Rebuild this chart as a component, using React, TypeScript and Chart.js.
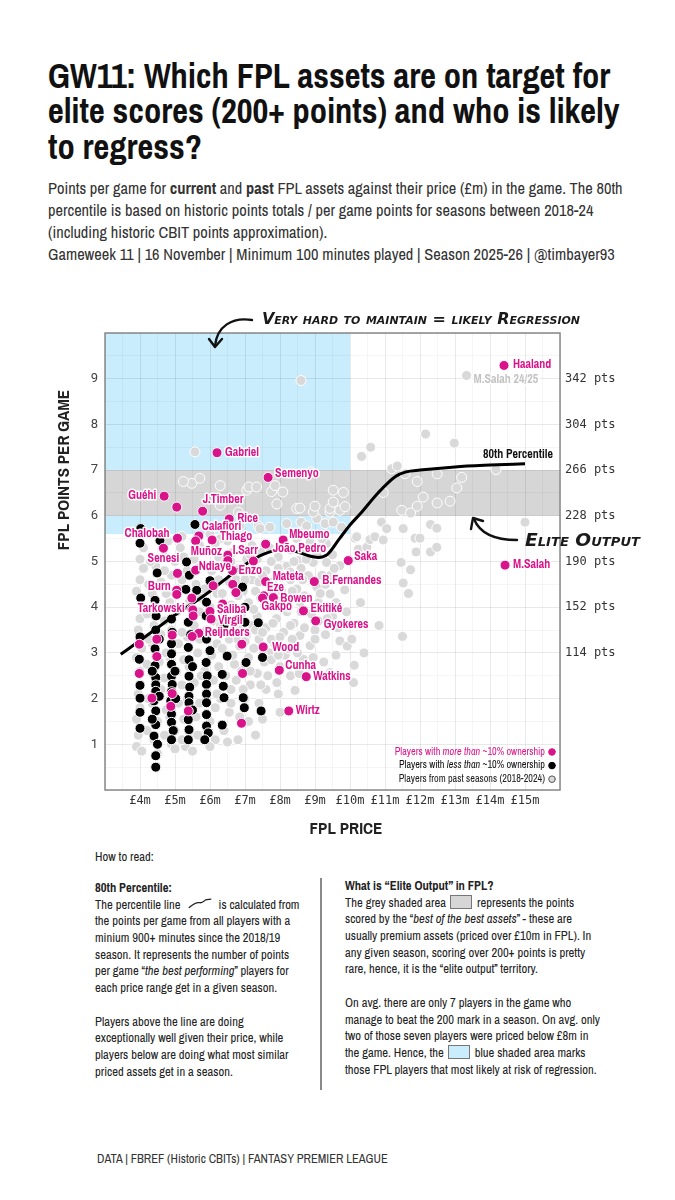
import React, { useEffect, useRef } from "react";
import { Chart, registerables } from "chart.js";

Chart.register(...registerables);

const NARROW = '"Liberation Sans Narrow", "Archivo Narrow", "DejaVu Sans Condensed", Roboto, sans-serif';
const MONO = '"DejaVu Sans Mono", "Liberation Mono", monospace';
const HAND = '"DejaVu Sans", sans-serif';

const MAGENTA = "#d9138a";
const PAST_GREY = "#d9d9d9";
const BLUE_ZONE = "#c9edfc";
const ELITE_GREY = "#d6d6d6";

// ---------- ticks ----------
const priceTicks = [4, 5, 6, 7, 8, 9, 10, 11, 12, 13, 14, 15];
const priceTickLabels = ["£4m", "£5m", "£6m", "£7m", "£8m", "£9m", "£10m", "£11m", "£12m", "£13m", "£14m", "£15m"];
const ppgTicks = [1, 2, 3, 4, 5, 6, 7, 8, 9];
const ppgTickLabels = ["1", "2", "3", "4", "5", "6", "7", "8", "9"];
const seasonPtsTicks = [3, 4, 5, 6, 7, 8, 9];
const seasonPtsTickLabels = ["114 pts", "152 pts", "190 pts", "228 pts", "266 pts", "304 pts", "342 pts"];

// ---------- zones ----------
const regressionZone = { maxPrice: 10, minPpg: 5.6 };
const eliteBand = { minPpg: 6, maxPpg: 7 };

// ---------- data: [price £m, points per game] ----------
const pastSeasons: [number, number][] = [
  [3.9, 0.95], [3.95, 1.2], [3.9, 1.55], [4.0, 1.8], [3.95, 2.1], [4.0, 2.6], [3.9, 2.9], [4.05, 3.1], [3.95, 3.5], [4.0, 3.75], [4.1, 4.0], [3.9, 4.35], [4.0, 4.6], [4.1, 4.85], [4.0, 5.05], [4.1, 5.3],
  [4.4, 1.1], [4.5, 1.5], [4.35, 1.9], [4.6, 2.2], [4.4, 2.5], [4.55, 2.8], [4.35, 3.2], [4.6, 3.4], [4.4, 3.6], [4.5, 3.95], [4.35, 4.3], [4.6, 4.55], [4.45, 4.9], [4.7, 5.1], [4.3, 5.0], [4.6, 5.6],
  [4.9, 1.0], [5.0, 1.3], [4.85, 1.6], [5.1, 1.9], [4.9, 2.2], [5.05, 2.6], [4.85, 2.9], [5.1, 3.2], [4.9, 3.5], [5.05, 3.9], [4.85, 4.1], [5.1, 4.4], [4.9, 4.7], [5.0, 5.0], [5.15, 5.3], [4.8, 5.45],
  [5.3, 0.95], [5.45, 1.25], [5.6, 1.6], [5.35, 2.0], [5.55, 2.35], [5.4, 2.7], [5.65, 3.0], [5.35, 3.35], [5.55, 3.6], [5.7, 3.9], [5.4, 4.1], [5.6, 4.5], [5.35, 4.8], [5.55, 5.05], [5.7, 5.35], [5.2, 5.55],
  [5.85, 1.2], [6.0, 1.5], [6.15, 1.8], [5.9, 2.1], [6.1, 2.4], [5.85, 2.6], [6.05, 2.95], [6.2, 3.2], [5.9, 3.5], [6.1, 3.7], [6.0, 4.0], [6.2, 4.3], [5.85, 4.4], [6.05, 4.8], [6.25, 5.1], [5.95, 5.25], [6.0, 5.6],
  [6.4, 1.3], [6.55, 1.7], [6.3, 2.0], [6.6, 2.2], [6.45, 2.5], [6.7, 2.75], [6.35, 3.1], [6.55, 3.3], [6.7, 3.55], [6.4, 3.8], [6.6, 4.05], [6.35, 4.3], [6.55, 4.55], [6.7, 4.8], [6.45, 5.0], [6.65, 5.2], [6.5, 5.45], [6.3, 5.5],
  [6.8, 1.1], [6.85, 1.6], [7.0, 2.0], [7.15, 2.3], [6.9, 2.6], [7.1, 2.9], [6.85, 3.15], [7.05, 3.4], [7.2, 3.6], [6.9, 3.85], [7.1, 4.1], [6.95, 4.35], [7.2, 4.6], [6.85, 4.85], [7.05, 5.05], [7.2, 5.35], [7.1, 1.5],
  [7.3, 1.2], [7.4, 1.9], [7.6, 2.2], [7.35, 2.55], [7.55, 2.8], [7.7, 3.0], [7.4, 3.3], [7.6, 3.55], [7.35, 3.8], [7.55, 4.05], [7.7, 4.3], [7.4, 4.55], [7.6, 4.8], [7.35, 5.05], [7.55, 5.3],
  [7.91, 2.35], [8.0, 2.7], [8.15, 2.95], [7.85, 3.2], [8.1, 3.45], [7.9, 3.75], [8.2, 3.9], [8.1, 4.18], [7.85, 4.4], [8.05, 4.65], [8.2, 4.9], [7.95, 5.1],
  [8.43, 2.18], [8.67, 2.86], [8.24, 3.09], [8.57, 3.38], [8.4, 3.65], [8.6, 3.9], [8.57, 4.11], [8.48, 4.4], [8.29, 4.77], [8.52, 5.02], [8.7, 5.25], [8.48, 5.5],
  [8.86, 3.16], [9.0, 3.5], [8.9, 3.85], [9.1, 4.1], [9.05, 4.44], [8.81, 4.69], [8.95, 4.98], [9.15, 5.3], [8.86, 5.43],
  [9.43, 2.57], [9.71, 3.26], [9.92, 3.15], [9.5, 3.8], [9.6, 4.1], [9.43, 4.29], [9.85, 4.38], [9.43, 4.69], [9.33, 4.98], [9.71, 4.91], [9.33, 5.39],
  [6.6, 1.9], [6.75, 2.4], [6.65, 2.95], [6.8, 3.3], [6.75, 3.75], [6.8, 4.25], [6.75, 4.6], [6.6, 5.0],
  [6.95, 2.2], [7.0, 2.75], [7.0, 3.25], [6.95, 3.6], [7.0, 4.6], [6.95, 5.25],
  [7.15, 2.6], [7.25, 3.1], [7.3, 3.5], [7.25, 3.95], [7.3, 4.35], [7.25, 4.8], [7.15, 5.15],
  [7.45, 2.3], [7.5, 2.95], [7.5, 3.45], [7.45, 4.2], [7.5, 4.7], [7.45, 5.2],
  [7.65, 2.5], [7.75, 2.85], [7.75, 3.3], [7.8, 3.65], [7.7, 4.0], [7.8, 4.55], [7.75, 5.0], [7.7, 5.3],
  [7.95, 2.1], [7.95, 2.95], [8.0, 3.35], [8.0, 4.0], [8.05, 4.35], [7.95, 4.85], [8.1, 5.3],
  [8.3, 2.5], [8.25, 2.75], [8.35, 3.3], [8.3, 3.6], [8.25, 4.0], [8.35, 4.35], [8.3, 4.6], [8.4, 5.0], [8.3, 5.25],
  [8.55, 2.55], [8.5, 3.0], [8.7, 3.55], [8.7, 4.25], [8.65, 4.6], [8.6, 4.85], [8.75, 5.05],
  [8.85, 2.7], [8.95, 2.9], [9.0, 3.3], [9.1, 3.7], [9.15, 4.3], [9.2, 4.7], [9.05, 5.15], [9.2, 5.5],
  [9.25, 2.8], [9.3, 3.4], [9.35, 3.75], [9.3, 4.5], [9.5, 5.15], [9.55, 4.85], [9.6, 2.95], [9.65, 3.55], [9.9, 3.9], [9.95, 4.6], [10.05, 3.3], [10.3, 4.1], [10.4, 3.0], [10.1, 2.35],
  [4.2, 1.3], [4.25, 2.0], [4.2, 2.75], [4.25, 3.3], [4.2, 3.85], [4.25, 4.5],
  [4.7, 1.2], [4.75, 1.75], [4.7, 2.45], [4.75, 3.0], [4.7, 3.7], [4.75, 4.3], [4.7, 4.8],
  [5.2, 1.1], [5.25, 1.55], [5.2, 2.3], [5.25, 2.85], [5.2, 3.45], [5.25, 4.0], [5.2, 4.6], [5.25, 5.1],
  [5.65, 1.2], [5.7, 1.9], [5.75, 2.5], [5.7, 3.3], [5.75, 4.2], [5.65, 4.85],
  [6.15, 1.1], [6.2, 2.1], [6.25, 2.7], [6.3, 3.6], [6.25, 4.6], [6.15, 5.4],
  [4.05, 0.85], [4.5, 0.8], [5.0, 0.9], [5.5, 0.85], [6.0, 0.95], [6.5, 1.05], [7.5, 1.55], [8.0, 1.7],
  [10.12, 2.73], [10.83, 3.6], [11.5, 3.36], [11.67, 4.3], [11.52, 4.53], [11.73, 4.82], [11.46, 4.98], [10.24, 5.27], [10.48, 5.31], [11.89, 5.21], [12.3, 5.21], [12.48, 5.31],
  [10.14, 5.51], [10.57, 5.48], [10.71, 5.54], [10.95, 5.47], [11.86, 5.51], [12.0, 5.51], [10.19, 5.54],
  [10.9, 5.86], [11.05, 5.72], [11.52, 5.72], [12.3, 5.81], [12.48, 5.73], [15.0, 5.86],
  [6.86, 5.79], [7.38, 5.78], [7.43, 5.72], [7.71, 5.75], [8.19, 5.83], [8.6, 5.86], [8.76, 5.78], [9.05, 5.94], [9.29, 5.83], [9.52, 5.86], [9.76, 5.75],
  [5.48, 6.71], [5.24, 6.75], [5.71, 6.82], [6.29, 6.66], [6.29, 6.23], [6.81, 6.08], [7.05, 6.56], [7.11, 6.63], [7.33, 6.63], [7.76, 6.53], [7.86, 6.66], [8.08, 6.52], [7.91, 6.26],
  [8.48, 6.16], [8.57, 6.17], [8.95, 6.08], [9.0, 6.21], [8.88, 6.96], [9.43, 6.08], [9.43, 6.16], [9.52, 6.3], [9.52, 6.56], [9.71, 6.12], [9.81, 6.51], [9.86, 6.2],
  [10.95, 6.51], [11.48, 6.12], [11.73, 6.06], [11.92, 6.21], [12.09, 6.41], [12.49, 6.28], [12.86, 6.32], [13.05, 6.61], [11.92, 6.75], [11.19, 7.03], [11.35, 7.09], [11.57, 6.92],
  [12.49, 6.92], [13.19, 6.84], [14.17, 7.01],
  [10.33, 7.3], [10.59, 7.5], [12.16, 7.79], [12.98, 7.59], [5.57, 7.4], [8.6, 8.96],
];

const pastHighlight: [string, number, number][] = [["M.Salah 24/25", 13.33, 9.07]];

const lowOwnership: [number, number][] = [
  [4.02, 5.72], [4.0, 5.4], [4.02, 4.2], [4.0, 3.35], [3.98, 2.86], [4.0, 2.29], [4.0, 2.01], [4.0, 1.7], [4.0, 1.35],
  [4.57, 5.46], [4.49, 4.75], [4.43, 4.15], [4.46, 3.81], [4.45, 3.5], [4.43, 3.09], [4.43, 2.72], [4.45, 2.46], [4.45, 2.3], [4.45, 2.16], [4.4, 1.95],
  [4.45, 1.73], [4.45, 1.43], [4.4, 1.18], [4.5, 1.0], [4.45, 0.75], [4.45, 0.5], [4.35, 2.6], [4.35, 1.55], [4.55, 3.3], [4.55, 2.05],
  [4.9, 3.74], [4.92, 3.45], [4.9, 3.2], [4.9, 2.98], [4.9, 2.75], [4.9, 2.49], [4.92, 2.31], [4.9, 2.15], [4.88, 1.95], [4.9, 1.66], [4.9, 1.48], [4.95, 1.3], [4.9, 1.1], [5.0, 2.6], [5.02, 2.0],
  [5.57, 5.81], [5.33, 4.99], [5.41, 4.7], [5.31, 4.39], [5.62, 4.37], [5.38, 3.67], [5.45, 3.4], [5.38, 3.12], [5.4, 2.85], [5.4, 2.49], [5.42, 2.25], [5.4, 2.05], [5.4, 1.91],
  [5.38, 1.54], [5.4, 1.32], [5.38, 1.1], [5.5, 2.7], [5.5, 1.75],
  [6.0, 4.58], [5.9, 4.11], [5.89, 3.81], [5.9, 3.3], [5.89, 2.79], [5.92, 2.5], [5.9, 2.31], [5.9, 2.1], [5.9, 1.91], [5.9, 1.65], [5.9, 1.4], [5.95, 1.25], [5.85, 1.1], [6.0, 3.05],
  [6.49, 2.93], [6.35, 2.53], [6.38, 2.27], [6.4, 2.02], [6.35, 1.42], [6.4, 3.6],
  [6.93, 4.44], [7.0, 3.67], [7.03, 2.79], [6.95, 2.02], [6.98, 1.8], [7.0, 4.0],
  [7.38, 3.66], [7.46, 1.73], [7.5, 2.9],
];

const highOwnership: [string, number, number][] = [
  ["Haaland", 14.4, 9.29], ["Gabriel", 6.2, 7.38], ["Semenyo", 7.66, 6.84], ["Guéhi", 4.69, 6.43], ["", 5.05, 6.19],
  ["J.Timber", 5.79, 6.1], ["Rice", 6.55, 5.93], ["Calafiori", 5.68, 5.56], ["", 5.59, 5.45], ["Chalobah", 5.07, 5.51],
  ["Thiago", 6.06, 5.47], ["Mbeumo", 8.09, 5.47], ["João Pedro", 7.59, 5.38], ["Muñoz", 6.51, 5.14], ["", 6.51, 5.02],
  ["I.Sarr", 7.24, 5.01], ["Senesi", 4.67, 5.29], ["Ndiaye", 5.59, 4.81], ["Enzo", 6.64, 4.8], ["", 5.07, 4.74],
  ["", 6.09, 4.47], ["", 6.65, 4.5], ["", 6.74, 4.32], ["Mateta", 7.59, 4.56], ["B.Fernandes", 8.98, 4.56],
  ["Saka", 9.95, 5.02], ["Burn", 5.05, 4.37], ["", 5.05, 4.28], ["", 5.48, 4.2], ["Eze", 7.54, 4.25], ["Bowen", 7.81, 4.21],
  ["Gakpo", 7.5, 4.2], ["Ekitiké", 8.67, 3.92], ["Gyokeres", 9.02, 3.7], ["Tarkowski", 5.48, 3.96], ["", 5.51, 3.94],
  ["", 5.52, 3.81], ["Saliba", 6.0, 3.91], ["Virgil", 6.03, 3.74], ["", 6.36, 4.07], ["Reijnders", 5.68, 3.43],
  ["", 5.49, 3.36], ["", 4.92, 3.39], ["", 4.48, 3.3], ["", 3.98, 3.19], ["", 6.91, 3.19], ["Wood", 7.52, 3.13],
  ["", 4.48, 2.92], ["Cunha", 7.98, 2.62], ["", 3.98, 2.55], ["", 6.93, 2.55], ["Watkins", 8.75, 2.48],
  ["", 4.92, 2.11], ["", 4.34, 2.01], ["", 4.88, 1.83], ["", 5.38, 1.73], ["Wirtz", 8.25, 1.73], ["", 6.9, 1.46],
  ["M.Salah", 14.43, 4.92],
];

const percentile80: [number, number][] = [
  [3.45, 2.97], [4.0, 3.27], [4.5, 3.55], [5.0, 3.83], [5.5, 4.08], [6.0, 4.35], [6.5, 4.65], [7.0, 4.93],
  [7.5, 5.15], [8.0, 5.25], [8.4, 5.23], [8.8, 5.13], [9.1, 5.09], [9.35, 5.15], [9.7, 5.5], [10.0, 5.8],
  [10.3, 6.05], [10.8, 6.5], [11.3, 6.86], [11.6, 6.96], [12.0, 7.0], [13.0, 7.07], [14.0, 7.11], [15.0, 7.14],
];

const legendItems: { parts: [string, boolean][]; color: string; dot: string; ring: string }[] = [
  { parts: [["Players with ", false], ["more than", true], [" ~10% ownership", false]], color: MAGENTA, dot: MAGENTA, ring: MAGENTA },
  { parts: [["Players with ", false], ["less than", true], [" ~10% ownership", false]], color: "#111", dot: "#000", ring: "#000" },
  { parts: [["Players from past seasons (2018-2024)", false]], color: "#222", dot: PAST_GREY, ring: "#555" },
];

// ---------- label placement (layout only) ----------
const labelPlacement: Record<string, [number, number, CanvasTextAlign]> = {
  Haaland: [9, -1, "left"], Gabriel: [8, 0, "left"], Semenyo: [7, -4, "left"], "Guéhi": [-8, 0, "right"],
  "J.Timber": [0, -11, "left"], Rice: [8, 0, "left"], Calafiori: [3, -9, "left"], Chalobah: [-8, -4, "right"],
  Thiago: [8, -3, "left"], Mbeumo: [6, -5, "left"], "João Pedro": [7, 5, "left"], "Muñoz": [-6, -3, "right"],
  "I.Sarr": [-8, -10, "center"], Senesi: [0, 11, "center"], Ndiaye: [3, -3, "left"], Enzo: [6, 0, "left"],
  Mateta: [7, -5, "left"], "B.Fernandes": [8, -1, "left"], Saka: [6, -4, "left"], Burn: [-6, -4, "right"],
  Eze: [3, -8, "left"], Bowen: [7, 1, "left"], Gakpo: [-1, 9, "left"], "Ekitiké": [7, -2, "left"],
  Gyokeres: [8, 4, "left"], Tarkowski: [-7, 0, "right"], Saliba: [7, -2, "left"], Virgil: [7, 2, "left"],
  Reijnders: [6, 0, "left"], Wood: [9, 1, "left"], Cunha: [6, -4, "left"], Watkins: [7, 0, "left"],
  Wirtz: [7, 0, "left"], "M.Salah": [8, 0, "left"], "M.Salah 24/25": [7, 4, "left"],
};

// ---------- geometry ----------
const CANVAS_W = 675;
const CANVAS_H = 845;
const PLOT = { left: 105, right: 560, top: 333, bottom: 790 };

const halfSteps = (a: number, b: number) => {
  const out: number[] = [];
  for (let v = a; v <= b + 1e-9; v += 0.5) out.push(v);
  return out;
};
const priceGrid = halfSteps(3, 16);
const ppgGrid = halfSteps(0, 10);

const gridColor = (c: any) =>
  c.tick && Number.isInteger(c.tick.value) ? "rgba(0,0,0,0.085)" : "rgba(0,0,0,0.04)";

function drawArrowHead(ctx: CanvasRenderingContext2D, tip: [number, number], a: [number, number], b: [number, number]) {
  ctx.beginPath();
  ctx.moveTo(a[0], a[1]);
  ctx.lineTo(tip[0], tip[1]);
  ctx.lineTo(b[0], b[1]);
  ctx.stroke();
}

function drawHand(ctx: CanvasRenderingContext2D, text: string, x: number, y: number, width: number, size: number) {
  ctx.save();
  ctx.font = `italic bold ${size}px ${HAND}`;
  (ctx as any).fontVariantCaps = "small-caps";
  const w = ctx.measureText(text).width;
  ctx.translate(x, y);
  ctx.scale(width / w, 1);
  ctx.fillStyle = "#1a1a1a";
  ctx.textAlign = "left";
  ctx.textBaseline = "alphabetic";
  ctx.fillText(text, 0, 0);
  ctx.restore();
}

const decorPlugin = {
  id: "decor",
  beforeDraw(chart: any) {
    const { ctx, chartArea: a, scales } = chart;
    const x = scales.x;
    const y = scales.y;
    ctx.save();
    ctx.fillStyle = BLUE_ZONE;
    const bx1 = x.getPixelForValue(regressionZone.maxPrice);
    const by1 = y.getPixelForValue(regressionZone.minPpg);
    ctx.fillRect(a.left, a.top, bx1 - a.left, by1 - a.top);
    ctx.fillStyle = ELITE_GREY;
    const gy0 = y.getPixelForValue(eliteBand.maxPpg);
    const gy1 = y.getPixelForValue(eliteBand.minPpg);
    ctx.fillRect(a.left, gy0, a.right - a.left, gy1 - gy0);
    ctx.restore();
  },
  afterDatasetsDraw(chart: any) {
    const { ctx } = chart;
    ctx.save();
    ctx.textBaseline = "middle";
    ctx.lineJoin = "round";
    ctx.font = `bold 12px ${NARROW}`;
    const drawLabel = (name: string, px: number, py: number, color: string) => {
      const p = labelPlacement[name] || [8, 0, "left"];
      ctx.textAlign = p[2];
      ctx.strokeStyle = "rgba(255,255,255,0.95)";
      ctx.lineWidth = 3;
      ctx.strokeText(name, px + p[0], py + p[1]);
      ctx.fillStyle = color;
      ctx.fillText(name, px + p[0], py + p[1]);
    };
    const hiMeta = chart.getDatasetMeta(3);
    highOwnership.forEach((d, i) => {
      if (!d[0]) return;
      const el = hiMeta.data[i];
      drawLabel(d[0], el.x, el.y, MAGENTA);
    });
    const pastMeta = chart.getDatasetMeta(0);
    pastHighlight.forEach((d, i) => {
      const el = pastMeta.data[pastSeasons.length + i];
      drawLabel(d[0], el.x, el.y, "#c3c3c3");
    });
    ctx.restore();
  },
  afterDraw(chart: any) {
    const { ctx, chartArea: a } = chart;
    ctx.save();
    ctx.strokeStyle = "#888";
    ctx.lineWidth = 1.5;
    ctx.strokeRect(a.left, a.top, a.right - a.left, a.bottom - a.top);

    ctx.fillStyle = "#111";
    ctx.font = `bold 12px ${NARROW}`;
    ctx.textAlign = "center";
    ctx.textBaseline = "middle";
    ctx.fillText("80th Percentile", 518, 455);

    ctx.font = `bold 17px ${NARROW}`;
    ctx.fillStyle = "#222";
    ctx.fillText("FPL PRICE", 346, 829);
    ctx.save();
    ctx.translate(64, 470);
    ctx.rotate(-Math.PI / 2);
    ctx.fillText("FPL POINTS PER GAME", 0, 0);
    ctx.restore();

    drawHand(ctx, "Very hard to maintain = likely Regression", 262, 324, 318, 16);
    drawHand(ctx, "Elite Output", 525, 546, 115, 17);
    ctx.strokeStyle = "#111";
    ctx.lineWidth = 2.4;
    ctx.lineCap = "round";
    ctx.lineJoin = "round";
    ctx.beginPath();
    ctx.moveTo(252, 320);
    ctx.bezierCurveTo(232, 317, 217, 326, 215, 346);
    ctx.stroke();
    drawArrowHead(ctx, [215, 347], [209, 339], [222, 339]);
    ctx.beginPath();
    ctx.moveTo(517, 540);
    ctx.bezierCurveTo(495, 540, 480, 534, 474, 519);
    ctx.stroke();
    drawArrowHead(ctx, [473, 518], [471, 529], [483, 521]);

    ctx.textBaseline = "middle";
    ctx.textAlign = "left";
    const size = 10.2;
    legendItems.forEach((item, i) => {
      const ly = 752 + i * 13.6;
      let total = 0;
      item.parts.forEach(([t, it]) => {
        ctx.font = `${it ? "italic " : ""}${size}px ${NARROW}`;
        total += ctx.measureText(t).width;
      });
      let lx = 545 - total;
      ctx.fillStyle = item.color;
      item.parts.forEach(([t, it]) => {
        ctx.font = `${it ? "italic " : ""}${size}px ${NARROW}`;
        ctx.fillText(t, lx, ly);
        lx += ctx.measureText(t).width;
      });
      ctx.beginPath();
      ctx.arc(552, ly, 3.3, 0, Math.PI * 2);
      ctx.fillStyle = item.dot;
      ctx.fill();
      ctx.lineWidth = 1;
      ctx.strokeStyle = item.ring;
      ctx.stroke();
    });
    ctx.restore();
  },
};

const tickLabel = (values: number[], labels: string[]) => (v: any) => {
  const i = values.indexOf(Number(v));
  return i >= 0 ? labels[i] : "";
};

function buildConfig(): any {
  const pointStyle = { pointRadius: 5, pointBorderWidth: 1, pointBorderColor: "#ffffff" };
  return {
    type: "scatter",
    data: {
      datasets: [
        {
          label: "past",
          data: [
            ...pastSeasons.map(([x, y]) => ({ x, y })),
            ...pastHighlight.map(([, x, y]) => ({ x, y })),
          ],
          pointBackgroundColor: PAST_GREY,
          ...pointStyle,
          order: 4,
        },
        {
          label: "low",
          data: lowOwnership.map(([x, y]) => ({ x, y })),
          pointBackgroundColor: "#000000",
          ...pointStyle,
          order: 3,
        },
        {
          label: "p80",
          data: percentile80.map(([x, y]) => ({ x, y })),
          showLine: true,
          borderColor: "#000000",
          borderWidth: 3,
          pointRadius: 0,
          cubicInterpolationMode: "monotone",
          order: 2,
        },
        {
          label: "high",
          data: highOwnership.map(([, x, y]) => ({ x, y })),
          pointBackgroundColor: MAGENTA,
          ...pointStyle,
          order: 1,
        },
      ],
    },
    options: {
      responsive: false,
      animation: false,
      events: [],
      layout: { padding: { top: PLOT.top, left: 0, right: 0, bottom: 0 } },
      plugins: { legend: { display: false }, tooltip: { enabled: false } },
      scales: {
        x: {
          type: "linear",
          min: 3,
          max: 16,
          afterBuildTicks: (s: any) => { s.ticks = priceGrid.map((v) => ({ value: v })); },
          afterFit: (s: any) => { s.height = CANVAS_H - PLOT.bottom; },
          grid: { color: gridColor, lineWidth: 1, drawTicks: false },
          border: { display: false },
          ticks: {
            autoSkip: false, maxRotation: 0, padding: 4, color: "#333",
            font: { family: MONO, size: 12 },
            callback: tickLabel(priceTicks, priceTickLabels),
          },
        },
        y: {
          type: "linear",
          position: "left",
          min: 0,
          max: 10,
          afterBuildTicks: (s: any) => { s.ticks = ppgGrid.map((v) => ({ value: v })); },
          afterFit: (s: any) => { s.width = PLOT.left; },
          grid: { color: gridColor, lineWidth: 1, drawTicks: false },
          border: { display: false },
          ticks: {
            autoSkip: false, padding: 7, color: "#444",
            font: { family: "Roboto, sans-serif", size: 13 },
            callback: tickLabel(ppgTicks, ppgTickLabels),
          },
        },
        y2: {
          type: "linear",
          position: "right",
          min: 0,
          max: 10,
          afterBuildTicks: (s: any) => { s.ticks = seasonPtsTicks.map((v) => ({ value: v })); },
          afterFit: (s: any) => { s.width = CANVAS_W - PLOT.right; },
          grid: { display: false, drawTicks: false },
          border: { display: false },
          ticks: {
            autoSkip: false, padding: 5, color: "#333",
            font: { family: MONO, size: 12 },
            callback: tickLabel(seasonPtsTicks, seasonPtsTickLabels),
          },
        },
      },
    },
    plugins: [decorPlugin],
  };
}

const Swatch = ({ fill }: { fill: string }) => (
  <span style={{ display: "inline-block", width: 20, height: 12, background: fill, border: "1px solid #777", verticalAlign: "-2px", margin: "0 5px 0 4px" }} />
);

const PercentileIcon = () => (
  <svg width="26" height="13" viewBox="0 0 30 14" style={{ verticalAlign: "-1px", margin: "0 6px 0 6px" }}>
    <path d="M2 12 C 6 9, 9 6, 13 6 C 16 6, 17 7, 20 4 C 22 2, 25 2, 28 2" fill="none" stroke="#222" strokeWidth="1.5" />
  </svg>
);

const lineStyle: React.CSSProperties = { whiteSpace: "nowrap", height: 16.7 };

export default function App() {
  const ref = useRef<HTMLCanvasElement>(null);
  useEffect(() => {
    const chart = new Chart(ref.current as HTMLCanvasElement, buildConfig());
    return () => chart.destroy();
  }, []);

  return (
    <div style={{ position: "absolute", left: 0, top: 0, width: 675, height: 1200, background: "#fff", fontFamily: NARROW, color: "#222", overflow: "hidden" }}>
      <div style={{ position: "absolute", left: 48, top: 58, fontSize: 34.5, fontWeight: 700, lineHeight: "35.3px", color: "#111", whiteSpace: "nowrap" }}>
        <div>GW11: Which FPL assets are on target for</div>
        <div>elite scores (200+ points) and who is likely</div>
        <div>to regress?</div>
      </div>
      <div style={{ position: "absolute", left: 48, top: 177, fontSize: 16.4, lineHeight: "22px", color: "#333", whiteSpace: "nowrap" }}>
        <div>Points per game for <b>current</b> and <b>past</b> FPL assets against their price (£m) in the game. The 80th</div>
        <div>percentile is based on historic points totals / per game points for seasons between 2018-24</div>
        <div>(including historic CBIT points approximation).</div>
        <div>Gameweek 11 | 16 November | Minimum 100 minutes played | Season 2025-26 | @timbayer93</div>
      </div>

      <canvas ref={ref} width={CANVAS_W} height={CANVAS_H} style={{ position: "absolute", left: 0, top: 0 }} />

      <div style={{ position: "absolute", left: 95, top: 849, fontSize: 12.6, lineHeight: "16.7px" }}>How to read:</div>

      <div style={{ position: "absolute", left: 95, top: 880, fontSize: 12.6, lineHeight: "16.7px" }}>
        <div style={lineStyle}><b>80th Percentile:</b></div>
        <div style={lineStyle}>The percentile line<PercentileIcon />is calculated from</div>
        <div style={lineStyle}>the points per game from all players with a</div>
        <div style={lineStyle}>minium 900+ minutes since the 2018/19</div>
        <div style={lineStyle}>season. It represents the number of points</div>
        <div style={lineStyle}>per game “<i>the best performing</i>” players for</div>
        <div style={lineStyle}>each price range get in a given season.</div>
        <div style={lineStyle}></div>
        <div style={lineStyle}>Players above the line are doing</div>
        <div style={lineStyle}>exceptionally well given their price, while</div>
        <div style={lineStyle}>players below are doing what most similar</div>
        <div style={lineStyle}>priced assets get in a season.</div>
      </div>

      <div style={{ position: "absolute", left: 320, top: 878, width: 2, height: 212, background: "#8a8a8a" }} />

      <div style={{ position: "absolute", left: 345, top: 878, fontSize: 12.6, lineHeight: "16.8px" }}>
        <div style={lineStyle}><b>What is “Elite Output” in FPL?</b></div>
        <div style={lineStyle}>The grey shaded area<Swatch fill={ELITE_GREY} />represents the points</div>
        <div style={lineStyle}>scored by the “<i>best of the best assets</i>” - these are</div>
        <div style={lineStyle}>usually premium assets (priced over £10m in FPL). In</div>
        <div style={lineStyle}>any given season, scoring over 200+ points is pretty</div>
        <div style={lineStyle}>rare, hence, it is the “elite output” territory.</div>
        <div style={lineStyle}></div>
        <div style={lineStyle}>On avg. there are only 7 players in the game who</div>
        <div style={lineStyle}>manage to beat the 200 mark in a season. On avg. only</div>
        <div style={lineStyle}>two of those seven players were priced below £8m in</div>
        <div style={lineStyle}>the game. Hence, the<Swatch fill={BLUE_ZONE} />blue shaded area marks</div>
        <div style={lineStyle}>those FPL players that most likely at risk of regression.</div>
      </div>

      <div style={{ position: "absolute", left: 97, top: 1152, fontSize: 12.5, lineHeight: "14px", color: "#333", whiteSpace: "nowrap" }}>
        DATA | FBREF (Historic CBITs) | FANTASY PREMIER LEAGUE
      </div>
    </div>
  );
}
